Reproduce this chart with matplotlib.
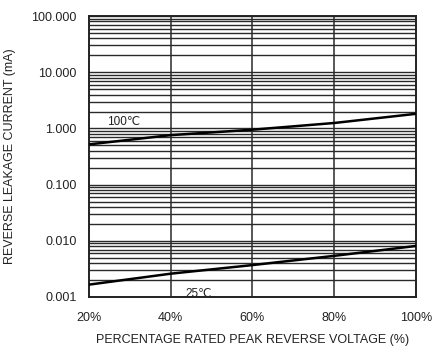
import matplotlib
matplotlib.use("Agg")
import matplotlib.pyplot as plt
from matplotlib.ticker import LogLocator, NullFormatter

plt.rcParams['font.family'] = ['Liberation Sans', 'DejaVu Sans']

# Percentage of rated peak reverse voltage
voltage_pct = [20, 40, 60, 80, 100]
# Reverse leakage current (mA)
leak_100c = [0.52, 0.76, 0.95, 1.25, 1.82]
leak_25c = [0.00166, 0.0026, 0.0037, 0.0054, 0.0081]

x_ticks = [20, 40, 60, 80, 100]
x_tick_labels = ['20%', '40%', '60%', '80%', '100%']
y_ticks = [0.001, 0.01, 0.1, 1, 10, 100]
y_tick_labels = ['0.001', '0.010', '0.100', '1.000', '10.000', '100.000']

fig = plt.figure(figsize=(4.36, 3.49), dpi=100)
ax = fig.add_axes([0.2041, 0.149, 0.750, 0.805])

ax.set_yscale('log')
ax.set_xlim(20, 100)
ax.set_ylim(0.001, 100)

ax.set_xticks(x_ticks)
ax.set_xticklabels(x_tick_labels)
ax.set_yticks(y_ticks)
ax.set_yticklabels(y_tick_labels)
ax.yaxis.set_minor_locator(LogLocator(base=10, subs=range(2, 10)))
ax.yaxis.set_minor_formatter(NullFormatter())

ax.tick_params(axis='both', which='both', length=0, labelsize=9, colors='#222222')
ax.tick_params(axis='x', pad=11)
ax.tick_params(axis='y', pad=9)

# Horizontal grid at every decade subdivision, vertical grid at interior x ticks
ax.grid(True, axis='y', which='both', color='#2a2a2a', linewidth=1.0)
for xv in x_ticks[1:-1]:
    ax.axvline(xv, color='#2a2a2a', linewidth=1.1, zorder=1)

for s in ax.spines.values():
    s.set_color('#222222')
    s.set_linewidth(1.4)

ax.plot(voltage_pct, leak_100c, color='black', linewidth=1.8, zorder=3)
ax.plot(voltage_pct, leak_25c, color='black', linewidth=1.8, zorder=3)

ax.text(24.5, 1.15, '100\u2103', fontsize=8.5, color='#222222')
ax.text(43.5, 0.00098, '25\u2103', fontsize=8.5, color='#222222')

ax.set_xlabel('PERCENTAGE RATED PEAK REVERSE VOLTAGE (%)', fontsize=9, labelpad=7, color='#222222')
ax.set_ylabel('REVERSE LEAKAGE CURRENT (mA)', fontsize=9, labelpad=11, color='#222222')

fig.savefig('out.png', dpi=100, facecolor='white')
